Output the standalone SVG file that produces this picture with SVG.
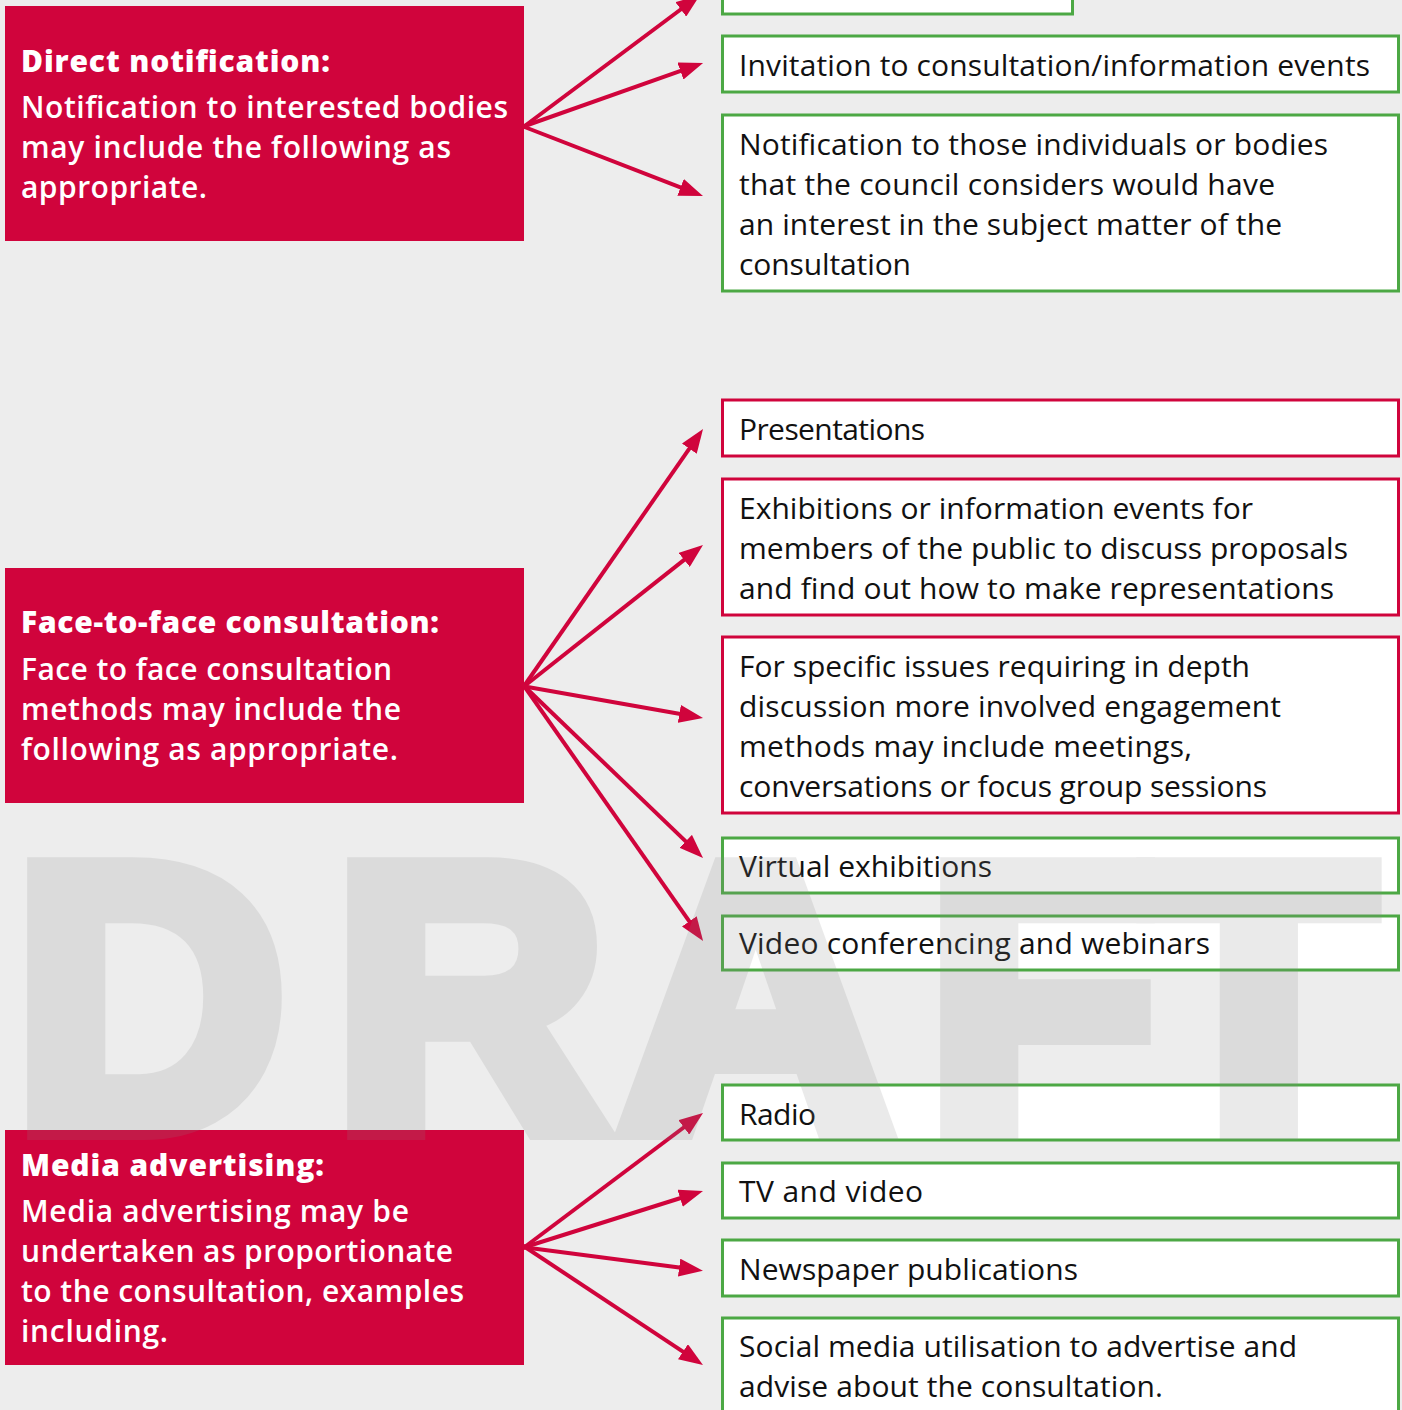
<svg xmlns="http://www.w3.org/2000/svg" width="1402" height="1410" viewBox="0 0 1402 1410">
<defs>
<marker id="ah" markerUnits="userSpaceOnUse" markerWidth="24" markerHeight="18" refX="4" refY="9" orient="auto">
<path d="M0,0 L24,9 L0,18 z" fill="#d0043c"/>
</marker>
<style>
.cat{fill:#d0043c}
.t{font-family:"Open Sans","Noto Sans","Liberation Sans",sans-serif;fill:#fff;font-size:30px;font-weight:600}
.h{font-weight:800}
.g{fill:#fff;stroke:#4ca844;stroke-width:3}
.r{fill:#fff;stroke:#d0043c;stroke-width:3}
.b{font-family:"Open Sans","Noto Sans","Liberation Sans",sans-serif;fill:#111;font-size:30px}
.c line{stroke:#d0043c;stroke-width:4;marker-end:url(#ah)}
.wm{font-family:"Liberation Sans",Arial,sans-serif;font-weight:700;font-size:376px;fill:#878787;stroke:#878787;stroke-width:24;stroke-linejoin:miter}
</style>
</defs>
<rect x="0" y="0" width="1402" height="1410" fill="#ededed"/>

<g id="cat-direct">
<rect class="cat" x="5" y="6" width="519" height="235"/>
<text class="t h" x="21" y="72" textLength="309">Direct notification:</text>
<text class="t" x="21" y="118" textLength="487">Notification to interested bodies</text>
<text class="t" x="21" y="158" textLength="430">may include the following as</text>
<text class="t" x="21" y="198" textLength="186">appropriate.</text>
</g>

<g id="cat-face">
<rect class="cat" x="5" y="568" width="519" height="235"/>
<text class="t h" x="21" y="633" textLength="418">Face-to-face consultation:</text>
<text class="t" x="21" y="680" textLength="371">Face to face consultation</text>
<text class="t" x="21" y="720" textLength="380">methods may include the</text>
<text class="t" x="21" y="760" textLength="377">following as appropriate.</text>
</g>

<g id="cat-media">
<rect class="cat" x="5" y="1130" width="519" height="235"/>
<text class="t h" x="21" y="1176" textLength="303">Media advertising:</text>
<text class="t" x="21" y="1222" textLength="388">Media advertising may be</text>
<text class="t" x="21" y="1262" textLength="432">undertaken as proportionate</text>
<text class="t" x="21" y="1302" textLength="443">to the consultation, examples</text>
<text class="t" x="21" y="1342" textLength="147">including.</text>
</g>

<g id="item-top">
<rect class="g" x="722.5" y="-40" width="350" height="54"/>
</g>
<g id="item-invitation">
<rect class="g" x="722.5" y="36" width="676" height="56"/>
<text class="b" x="739" y="76" textLength="631">Invitation to consultation/information events</text>
</g>
<g id="item-notification">
<rect class="g" x="722.5" y="115" width="676" height="176"/>
<text class="b" x="739" y="155" textLength="589">Notification to those individuals or bodies</text>
<text class="b" x="739" y="195" textLength="536">that the council considers would have</text>
<text class="b" x="739" y="235" textLength="543">an interest in the subject matter of the</text>
<text class="b" x="739" y="275" textLength="172">consultation</text>
</g>

<g id="item-presentations">
<rect class="r" x="722.5" y="400" width="676" height="56"/>
<text class="b" x="739" y="440" textLength="186">Presentations</text>
</g>
<g id="item-exhibitions">
<rect class="r" x="722.5" y="479" width="676" height="136"/>
<text class="b" x="739" y="519" textLength="514">Exhibitions or information events for</text>
<text class="b" x="739" y="559" textLength="609">members of the public to discuss proposals</text>
<text class="b" x="739" y="599" textLength="595">and find out how to make representations</text>
</g>
<g id="item-specific">
<rect class="r" x="722.5" y="637" width="676" height="176"/>
<text class="b" x="739" y="677" textLength="511">For specific issues requiring in depth</text>
<text class="b" x="739" y="717" textLength="542">discussion more involved engagement</text>
<text class="b" x="739" y="757" textLength="453">methods may include meetings,</text>
<text class="b" x="739" y="797" textLength="528">conversations or focus group sessions</text>
</g>
<g id="item-virtual">
<rect class="g" x="722.5" y="838" width="676" height="55"/>
<text class="b" x="739" y="877" textLength="253">Virtual exhibitions</text>
</g>
<g id="item-video">
<rect class="g" x="722.5" y="916" width="676" height="54"/>
<text class="b" x="739" y="954" textLength="471">Video conferencing and webinars</text>
</g>

<g id="item-radio">
<rect class="g" x="722.5" y="1085" width="676" height="55"/>
<text class="b" x="739" y="1125" textLength="77">Radio</text>
</g>
<g id="item-tv">
<rect class="g" x="722.5" y="1163" width="676" height="55"/>
<text class="b" x="739" y="1202" textLength="184">TV and video</text>
</g>
<g id="item-newspaper">
<rect class="g" x="722.5" y="1240" width="676" height="56"/>
<text class="b" x="739" y="1280" textLength="339">Newspaper publications</text>
</g>
<g id="item-social">
<rect class="g" x="722.5" y="1318" width="676" height="120"/>
<text class="b" x="739" y="1357" textLength="558">Social media utilisation to advertise and</text>
<text class="b" x="739" y="1397" textLength="424">advise about the consultation.</text>
</g>

<g id="connectors" class="c">
<line x1="522" y1="128" x2="684" y2="7"/>
<line x1="522" y1="127" x2="684.2" y2="69.7"/>
<line x1="522" y1="126" x2="684.3" y2="188.8"/>

<line x1="522" y1="689" x2="691.6" y2="445.4"/>
<line x1="522" y1="688" x2="687.3" y2="557.4"/>
<line x1="522" y1="686" x2="683.3" y2="714.5"/>
<line x1="522" y1="684" x2="688.6" y2="844.1"/>
<line x1="522" y1="683" x2="691.6" y2="924.6"/>

<line x1="522" y1="1249" x2="687" y2="1125"/>
<line x1="522" y1="1248" x2="683.9" y2="1197"/>
<line x1="522" y1="1247" x2="683.1" y2="1268.1"/>
<line x1="522" y1="1245" x2="686.3" y2="1353.9"/>
</g>

<g id="watermark" opacity="0.17">
<text class="wm" x="14 334 620 927 1144" y="1128">DRAFT</text>
</g>
</svg>
